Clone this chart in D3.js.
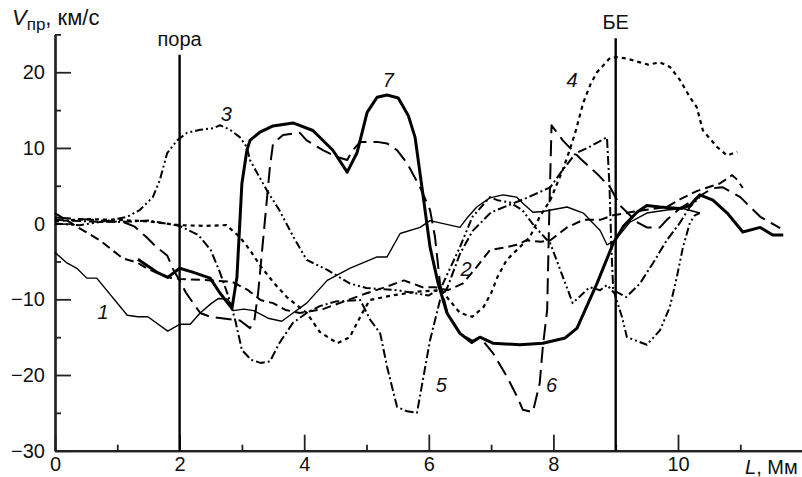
<!DOCTYPE html>
<html>
<head>
<meta charset="utf-8">
<script src="https://cdn.jsdelivr.net/npm/d3@7"></script>
<style>
  body { margin: 0; background: #fff; }
  svg { display: block; font-family: "Liberation Sans", Arial, sans-serif; }
  .tick text { font-size: 20px; fill: #111; }
  .lbl { font-size: 20px; fill: #111; }
  .num { font-size: 20px; font-style: italic; fill: #111; }
</style>
</head>
<body>
<svg id="chart" width="802" height="477"></svg>
<script>
// curve data, [L (Mm), V (km/s)]
var curve1 = [[0,-3.8],[0.19,-5.2],[0.35,-5.9],[0.51,-7.2],[0.67,-7.2],[1.16,-12.1],[1.33,-12.3],[1.49,-12.3],[1.81,-14.2],[2.0,-13.3],[2.17,-13.3],[2.33,-11.8],[2.5,-10.6],[2.62,-9.9],[2.78,-10.0],[2.86,-11.5],[3.03,-11.3],[3.19,-11.5],[3.42,-12.5],[3.64,-12.9],[3.82,-11.8],[4.04,-10.5],[4.37,-7.5],[4.73,-5.9],[5.17,-4.4],[5.33,-4.4],[5.54,-1.3],[5.86,-0.5],[6.02,0.4],[6.18,0.1],[6.5,-0.5],[6.61,0.7],[6.77,2.2],[6.98,3.4],[7.19,3.8],[7.41,3.5],[7.51,2.7],[7.67,1.5],[7.83,1.6],[8.22,2.2],[8.48,1.4],[8.75,-0.9],[8.86,-2.8],[8.99,-2.2],[9.23,0.2],[9.5,1.4],[9.82,1.8],[10.08,2.0],[10.35,1.4]];
var curve2 = [[0,1.4],[0.35,-0.4],[0.72,-2.2],[1.09,-4.6],[1.31,-5.1],[1.47,-5.9],[1.81,-7.1],[2.0,-7.3],[2.5,-7.5],[2.85,-7.7],[3.1,-8.8],[3.3,-10.1],[3.5,-10.5],[3.7,-11.4],[3.93,-11.8],[4.3,-11.3],[4.7,-10.1],[5.0,-9.2],[5.3,-8.4],[5.6,-7.5],[5.9,-8.4],[6.1,-8.4],[6.3,-8.8],[6.55,-7.9],[6.77,-5.7],[6.98,-3.5],[7.19,-3.2],[7.41,-2.8],[7.57,-2.2],[7.8,-2.4],[7.95,-2.2],[8.22,-0.5],[8.48,0.5],[8.75,0.5],[8.96,1.1],[9.3,1.6],[9.82,2.2],[10.03,3.2],[10.3,4.3],[10.67,5.3],[10.87,6.4],[10.95,5.8],[11.04,4.7]];
var curve3 = [[0,0],[0.4,-0.2],[0.72,0.2],[1.16,0.9],[1.36,1.8],[1.57,3.5],[1.68,5.7],[1.8,9.3],[1.96,11],[2.12,12],[2.33,12.4],[2.54,12.6],[2.65,13],[2.81,12.4],[2.97,11.4],[3.08,10.1],[3.13,8.4],[3.4,4.4],[3.6,1.8],[3.83,-1.8],[4.04,-4.8],[4.37,-6.1],[4.73,-7.9],[5.0,-8.5],[5.5,-8.8],[6.0,-9.5],[6.2,-8.4],[6.5,-3.1],[6.7,0.9],[6.98,3.5],[7.1,3.1],[7.3,2.8],[7.5,1.8],[7.7,-0.4],[7.95,-2.6],[8.15,-7],[8.31,-10.5],[8.58,-8.4],[8.75,-8.8],[8.86,-8.1],[8.98,-9.2],[9.1,-12.3],[9.18,-15],[9.5,-16],[9.71,-14.1],[9.87,-11],[9.98,-7.1],[10.08,-3.1],[10.19,0.1],[10.27,1.1],[10.35,1.4]];
var curve4 = [[0,0.3],[0.5,0.6],[1.0,0.5],[1.5,0.3],[2.0,-0.2],[2.4,-0.3],[2.75,-0.2],[2.97,-1.8],[3.13,-3.5],[3.29,-5.5],[3.5,-7.7],[3.72,-9.7],[4.04,-11.8],[4.25,-14.3],[4.53,-15.8],[4.73,-15],[4.9,-12.3],[5.05,-10.1],[5.4,-9.5],[5.8,-9.0],[6.2,-8.8],[6.5,-11.8],[6.7,-12.3],[6.88,-11],[7.0,-9.2],[7.1,-7.1],[7.25,-4.8],[7.41,-3.5],[7.62,-1.8],[7.78,0.9],[7.95,3.1],[8.15,7.1],[8.26,9.7],[8.35,12],[8.48,16],[8.6,18.5],[8.7,20],[8.91,21.9],[9.02,22],[9.18,21.8],[9.39,21.3],[9.52,21],[9.71,21.3],[9.87,20.7],[10.03,19],[10.19,16.7],[10.3,15.4],[10.4,12.3],[10.63,10.1],[10.79,9.0],[10.95,9.5]];
var curve5 = [[0,0.5],[0.5,0.3],[1.0,0.2],[1.5,0.4],[2.0,-0.3],[2.3,-1.5],[2.5,-3.5],[2.65,-6.5],[2.8,-10],[2.9,-13],[3.0,-16.7],[3.15,-18],[3.3,-18.4],[3.45,-18.2],[3.6,-15.8],[3.82,-13.1],[4.04,-11.8],[4.25,-10.9],[4.5,-10.3],[4.9,-10.1],[5.06,-12.7],[5.22,-14.5],[5.33,-18.9],[5.49,-24.2],[5.65,-24.8],[5.81,-25],[6.02,-15.4],[6.18,-10.1],[6.3,-8.4],[6.5,-4],[6.7,-1],[7.0,1.5],[7.3,2.5],[7.6,3.5],[7.95,4.8],[8.15,7.1],[8.36,9.3],[8.57,10.1],[8.86,11.4],[8.9,5],[8.93,-3],[8.96,-8.8],[9.17,-9.7],[9.39,-7.9],[9.6,-5.2],[9.82,-2.2],[10.03,0.1],[10.19,2.2],[10.35,3.5]];
var curve6 = [[0,0.8],[0.6,0.5],[1.1,0.2],[1.28,-0.4],[1.47,-1.8],[1.63,-3.1],[1.8,-4.2],[1.9,-6.1],[2.0,-7.5],[2.1,-9.1],[2.33,-11.8],[2.49,-12.3],[2.97,-12.8],[3.13,-13.8],[3.2,-12.8],[3.26,-9.2],[3.3,-5.7],[3.35,-1.3],[3.4,3.1],[3.45,7.5],[3.5,10.6],[3.66,11.7],[3.93,12],[4.04,11],[4.3,9.7],[4.53,8.8],[4.69,8.4],[4.78,9.7],[4.9,10.8],[5.17,10.8],[5.33,10.6],[5.49,9.7],[5.65,8],[5.86,4.8],[6.02,1.8],[6.1,-1.8],[6.18,-7.9],[6.3,-11.8],[6.5,-14.5],[6.7,-15.5],[6.82,-15],[7.03,-17.1],[7.26,-20.3],[7.42,-22.9],[7.51,-24.6],[7.67,-24.9],[7.78,-21.1],[7.83,-16.3],[7.9,-11.4],[7.93,0],[7.97,13],[8.15,11],[8.43,8.6],[8.7,6.6],[8.91,4.8],[9.07,2.4],[9.34,0.2],[9.5,-0.5],[9.71,-0.5],[9.82,0.5],[10.03,2],[10.24,3.1],[10.56,4.7],[10.72,4.8],[11.0,3.5],[11.32,0.9],[11.64,-0.6]];
var curve7 = [[1.33,-4.7],[1.47,-5.5],[1.63,-6.4],[1.81,-7.1],[2.0,-5.9],[2.21,-6.4],[2.49,-7.2],[2.65,-9.2],[2.84,-11.2],[2.92,-7.1],[3.0,5.3],[3.08,9.7],[3.13,11],[3.29,12.1],[3.5,12.9],[3.82,13.3],[4.14,12.3],[4.46,9.7],[4.69,6.8],[4.85,9.4],[5.01,14.7],[5.17,16.7],[5.33,17.0],[5.51,16.6],[5.67,14.3],[5.78,11.4],[5.89,4.8],[6.02,-3.1],[6.15,-7.9],[6.29,-11.8],[6.5,-14.5],[6.69,-15.7],[6.82,-15.0],[7.03,-15.8],[7.46,-16.0],[7.83,-15.8],[8.19,-15.1],[8.38,-13.8],[8.51,-11.4],[8.7,-7.9],[8.96,-2.6],[9.12,-0.4],[9.34,1.5],[9.5,2.4],[9.71,2.2],[10.03,2.0],[10.19,2.4],[10.35,3.8],[10.56,3.1],[10.79,1.4],[11.04,-1.1],[11.32,-0.5],[11.52,-1.5],[11.69,-1.5]];

var curveNames = ["1","2","3","4","5","6","7"];
var labelPos = [[0.77,-11.7],[6.6,-6.0],[2.75,14.5],[8.3,19.0],[6.2,-21.3],[7.97,-21.3],[5.35,19.0]];
var xTicks = [0,2,4,6,8,10];
var xMinor = [1,3,5,7,9,11];
var yTicks = [-30,-20,-10,0,10,20];
var yMinor = [-25,-15,-5,5,15,25];
var markers = [[2,"пора",22.3],[9,"БЕ",24.5]];

var svg = d3.select("#chart");
var x = d3.scaleLinear().domain([0,12]).range([55,802.6]);
var y = d3.scaleLinear().domain([-30,25]).range([450.7,34.4]);

var styles = [
  {w:1.4, dash:null},
  {w:2, dash:"9,5"},
  {w:2, dash:"8,3,2,3,2,3"},
  {w:2.2, dash:"4,4"},
  {w:2, dash:"9,3,2,3"},
  {w:2, dash:"16,7"},
  {w:3, dash:null}
];

// axes
var ax = svg.append("g").attr("transform","translate(0,"+y(-30)+")");
ax.call(d3.axisBottom(x).tickValues(xTicks).tickSize(-16).tickSizeOuter(0).tickPadding(6));
svg.append("g").attr("transform","translate(0,"+y(-30)+")")
   .call(d3.axisBottom(x).tickValues(xMinor).tickSize(-6).tickSizeOuter(0).tickFormat(""));
var ay = svg.append("g").attr("transform","translate("+x(0)+",0)");
ay.call(d3.axisLeft(y).tickValues(yTicks).tickSize(-16).tickSizeOuter(0).tickPadding(10));
svg.append("g").attr("transform","translate("+x(0)+",0)")
   .call(d3.axisLeft(y).tickValues(yMinor).tickSize(-6).tickSizeOuter(0).tickFormat(""));
svg.selectAll(".domain").attr("stroke","#222").attr("stroke-width",2.2);
svg.selectAll(".tick line").attr("stroke","#222").attr("stroke-width",1.8);
svg.selectAll(".tick text").attr("font-family","Liberation Sans, Arial, sans-serif").attr("font-size",20);

// vertical markers
markers.forEach(function(m) {
    svg.append("line")
       .attr("x1",x(m[0])).attr("x2",x(m[0]))
       .attr("y1",y(m[2])).attr("y2",y(-30))
       .attr("stroke","#000").attr("stroke-width",2.4);
    svg.append("text").attr("class","lbl")
       .attr("x",x(m[0])).attr("y",y(m[2])-9)
       .attr("text-anchor","middle")
       .text(m[1]);
});

// curves
var line = d3.line().x(function(d){ return x(d[0]); }).y(function(d){ return y(d[1]); });
var curves = [curve1,curve2,curve3,curve4,curve5,curve6,curve7];
curves.forEach(function(c,i) {
    svg.append("path")
       .attr("d",line(c))
       .attr("fill","none")
       .attr("stroke","#000")
       .attr("stroke-width",styles[i].w)
       .attr("stroke-linejoin","round")
       .attr("stroke-dasharray",styles[i].dash);
});

// curve numbers
svg.selectAll(".num").data(labelPos).enter().append("text")
   .attr("class","num")
   .attr("x",function(d){ return x(d[0]); })
   .attr("y",function(d){ return y(d[1]); })
   .attr("text-anchor","middle")
   .attr("dy","0.35em")
   .text(function(d,i){ return curveNames[i]; });

// axis titles
var t = svg.append("text").attr("x",12).attr("y",25)
   .style("font-size","22px").style("fill","#111");
t.append("tspan").style("font-style","italic").text("V");
t.append("tspan").style("font-size","17px").attr("dy",5).text("пр");
t.append("tspan").attr("dy",-5).text(", км/с");

var tl = svg.append("text").attr("class","lbl").attr("x",745).attr("y",474);
tl.append("tspan").attr("font-style","italic").text("L");
tl.append("tspan").text(", Мм");
</script>
</body>
</html>
